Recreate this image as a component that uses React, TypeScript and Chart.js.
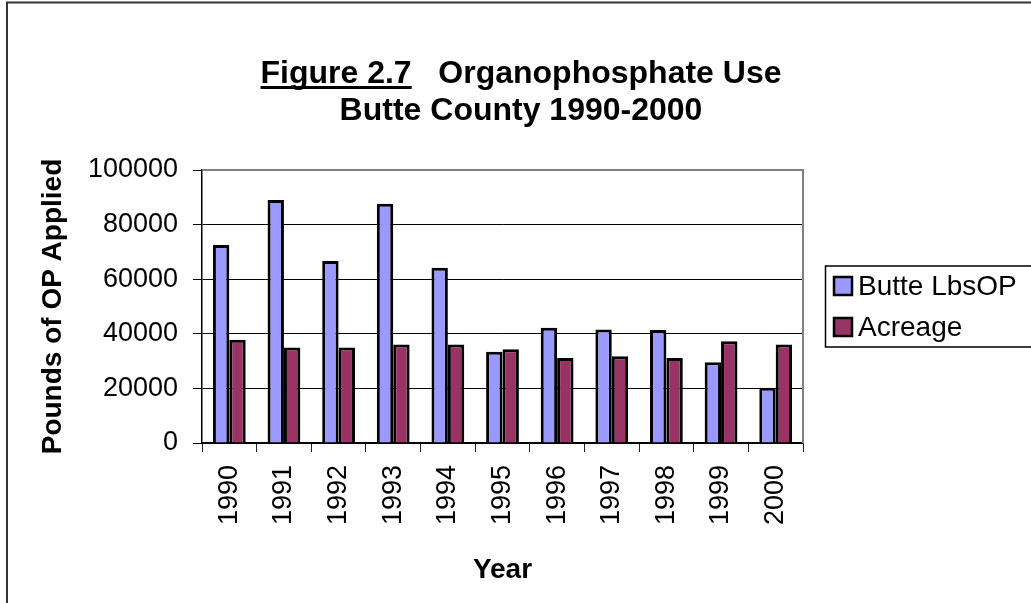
import React, { useEffect, useRef } from "react";
import { Chart, registerables } from "chart.js";

Chart.register(...registerables);

const YEARS = ["1990", "1991", "1992", "1993", "1994", "1995", "1996", "1997", "1998", "1999", "2000"];
const BUTTE_LBS_OP = [72500, 89000, 66700, 87600, 64200, 33400, 42200, 41600, 41400, 29600, 20200];
const ACREAGE = [37800, 35000, 35000, 36100, 36100, 34300, 31100, 31800, 31100, 37300, 36100];
const Y_TICKS = [0, 20000, 40000, 60000, 80000, 100000];
const SERIES_NAMES = ["Butte LbsOP", "Acreage"];
const SERIES_COLORS = ["#9999FF", "#993366"];
const TITLE_LINE1_UNDERLINED = "Figure 2.7";
const TITLE_LINE1_REST = "Organophosphate Use";
const TITLE_LINE2 = "Butte County 1990-2000";
const X_TITLE = "Year";
const Y_TITLE = "Pounds of OP Applied";

const FAMILY = '"Liberation Sans", Arial, Helvetica, sans-serif';

const decorPlugin = {
  id: "decor",
  beforeDraw(chart: any) {
    const ctx = chart.ctx;
    ctx.save();
    ctx.fillStyle = "#ffffff";
    ctx.fillRect(0, 0, chart.width, chart.height);
    ctx.restore();
  },
  afterDraw(chart: any) {
    const ctx = chart.ctx;
    const { left, right, top, bottom } = chart.chartArea;
    ctx.save();
    // plot area border (top & right)
    ctx.strokeStyle = "#808080";
    ctx.lineWidth = 2;
    ctx.beginPath();
    ctx.moveTo(left, top);
    ctx.lineTo(right, top);
    ctx.lineTo(right, bottom);
    ctx.stroke();

    // outer chart frame (cropped on right and bottom)
    ctx.strokeStyle = "#333333";
    ctx.lineWidth = 2;
    ctx.beginPath();
    ctx.moveTo(7, chart.height + 5);
    ctx.lineTo(7, 2.5);
    ctx.lineTo(chart.width + 5, 2.5);
    ctx.stroke();

    // title
    ctx.fillStyle = "#000";
    ctx.font = `bold 32px ${FAMILY}`;
    ctx.textBaseline = "alphabetic";
    ctx.textAlign = "left";
    const gap = "   ";
    const w1 = ctx.measureText(TITLE_LINE1_UNDERLINED).width;
    const wg = ctx.measureText(gap).width;
    const w2 = ctx.measureText(TITLE_LINE1_REST).width;
    const cx = 521;
    const x0 = cx - (w1 + wg + w2) / 2;
    const y1 = 83;
    ctx.fillText(TITLE_LINE1_UNDERLINED, x0, y1);
    ctx.fillText(TITLE_LINE1_REST, x0 + w1 + wg, y1);
    ctx.fillRect(x0, y1 + 3, w1, 3);
    ctx.textAlign = "center";
    ctx.fillText(TITLE_LINE2, cx, 120);

    // legend
    const lx = 825.5;
    const ly = 266;
    ctx.strokeStyle = "#000";
    ctx.lineWidth = 1.5;
    ctx.strokeRect(lx, ly, 260, 81);
    ctx.font = `28px ${FAMILY}`;
    ctx.textAlign = "left";
    chart.data.datasets.forEach((ds: any, i: number) => {
      const by = ly + 11 + i * 41;
      ctx.fillStyle = ds.backgroundColor;
      ctx.fillRect(834, by, 18, 18);
      ctx.strokeStyle = "#000";
      ctx.lineWidth = 2.5;
      ctx.strokeRect(834, by, 18, 18);
      ctx.fillStyle = "#000";
      ctx.fillText(ds.label, 858, by + 18);
    });
    ctx.restore();
  },
};

export default function App() {
  const canvasRef = useRef<HTMLCanvasElement | null>(null);

  useEffect(() => {
    const canvas = canvasRef.current;
    if (!canvas) return;
    const chart = new Chart(canvas, {
      type: "bar",
      data: {
        labels: YEARS,
        datasets: [
          {
            label: SERIES_NAMES[0],
            data: BUTTE_LBS_OP,
            backgroundColor: SERIES_COLORS[0],
            borderColor: "#000",
            borderWidth: 3,
            categoryPercentage: 0.6,
            barPercentage: 1.0,
          },
          {
            label: SERIES_NAMES[1],
            data: ACREAGE,
            backgroundColor: SERIES_COLORS[1],
            borderColor: "#000",
            borderWidth: 3,
            categoryPercentage: 0.6,
            barPercentage: 1.0,
          },
        ],
      },
      options: {
        responsive: false,
        animation: false,
        devicePixelRatio: 1,
        layout: { padding: { left: 0, top: 170, right: 228, bottom: 0 } },
        plugins: {
          legend: { display: false },
          title: { display: false },
          tooltip: { enabled: false },
        },
        scales: {
          x: {
            grid: {
              display: true,
              drawOnChartArea: false,
              drawTicks: true,
              tickLength: 9,
              color: "#222",
              offset: true,
            },
            border: { display: true, color: "#000", width: 1.5 },
            ticks: {
              autoSkip: false,
              minRotation: 90,
              maxRotation: 90,
              padding: 13,
              color: "#000",
              font: { family: FAMILY, size: 27 },
            },
            title: {
              display: true,
              text: X_TITLE,
              color: "#000",
              font: { family: FAMILY, size: 28, weight: "bold" },
              padding: { top: 0, bottom: 16 },
            },
            afterFit: (s: any) => {
              s.height = 160;
            },
          },
          y: {
            min: 0,
            max: 100000,
            afterBuildTicks: (s: any) => {
              s.ticks = Y_TICKS.map((v) => ({ value: v }));
            },
            grid: {
              color: (c: any) => (c.tick && c.tick.value === 100000 ? "rgba(0,0,0,0)" : "#000"),
              lineWidth: 1,
              tickLength: 9,
              tickColor: "#000",
              drawTicks: true,
            },
            border: { display: true, color: "#000", width: 1.5 },
            ticks: {
              padding: 15,
              color: "#000",
              font: { family: FAMILY, size: 27 },
              callback: (v: any) => String(v),
            },
            title: {
              display: true,
              text: Y_TITLE,
              color: "#000",
              font: { family: FAMILY, size: 28, weight: "bold" },
              padding: { top: 36, bottom: 0 },
            },
            afterFit: (s: any) => {
              s.width = 202;
            },
          },
        },
      } as any,
      plugins: [decorPlugin],
    });
    return () => chart.destroy();
  }, []);

  return (
    <div style={{ position: "fixed", left: 0, top: 0, width: 1031, height: 603, background: "#fff" }}>
      <canvas ref={canvasRef} width={1031} height={603} style={{ display: "block" }} />
    </div>
  );
}
